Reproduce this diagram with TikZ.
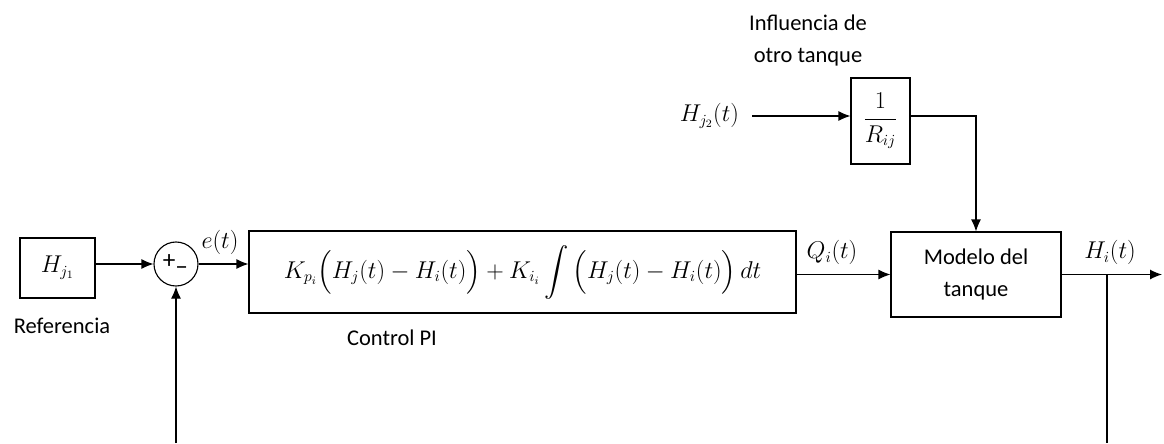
\documentclass[tikz,border=0pt]{standalone}
\usepackage{amsmath}
\usepackage{fontspec}
\setmainfont{Carlito}
\usetikzlibrary{arrows.meta}

\begin{document}
\begin{tikzpicture}[
    blk/.style={draw, line width=0.8pt, align=center, inner sep=2pt},
    lbl/.style={font=\fontsize{16}{22.7}\selectfont, align=center},
    sign/.style={font=\fontsize{18}{18}\selectfont, inner sep=0pt},
    sig/.style={line width=0.8pt, -{Latex[length=0.3cm, width=0.25cm]}},
    wire/.style={line width=0.8pt},
    font=\fontsize{16}{22.7}\selectfont,
  ]
  \useasboundingbox (0,0) rectangle (29.1,-11.075);
  % Left: reference and summing point
  \node[blk, minimum width=1.875cm, minimum height=1.5cm] (ref) at (1.4375,-6.7) {$H_{j_1}$};
  \node[lbl] (reflbl) at (1.55,-8.15) {Referencia};
  \node[draw, circle, line width=0.8pt, minimum size=1.1cm, inner sep=0pt] (sum) at (4.4,-6.6) {};
  \node[sign] (plus) at ([xshift=-0.17cm, yshift=0.06cm]sum.center) {+};
  \node[sign] (minus) at ([xshift=0.14cm, yshift=-0.16cm]sum.center) {\textendash};
  % Middle: the controller
  \node[blk, minimum width=13.675cm, minimum height=2.05cm] (pi) at (13.0625,-6.8)
    {$K_{p_i}\Big(H_j(t)-H_i(t)\Big)+K_{i_i}\,{\displaystyle\int}\,\Big(H_j(t)-H_i(t)\Big)\,dt$};
  \node[lbl] (pilbl) at (9.8,-8.45) {Control PI};
  \node[lbl] (elbl) at (5.5,-6.05) {$e(t)$};
  % Right: the tank and the other tank
  \node[blk, minimum width=4.25cm, minimum height=2.125cm] (tank) at (24.4,-6.8625) {Modelo del\\tanque};
  \node[blk, minimum width=1.475cm, minimum height=2.15cm] (gain) at (22.0125,-3.025) {$\dfrac{1}{R_{ij}}$};
  \node[lbl] (inflbl) at (20.2,-1.02) {Influencia de\\otro tanque};
  \node[lbl, anchor=east] (hjtwo) at (18.6,-2.9) {$H_{j_2}(t)$};
  \node[lbl] (qlbl) at (20.8,-6.32) {$Q_i(t)$};
  \node[lbl] (hlbl) at (27.75,-6.32) {$H_i(t)$};
  % Free ends
  \coordinate (out) at (29.05,-6.8625);
  \coordinate (br) at (27.675,-6.8625);
  \coordinate (bot) at (27.675,-11.075);
  \coordinate (fb) at (4.4,-11.075);
  % Connectors
  \draw[sig] (ref.east |- sum) -- (sum.west);
  \draw[sig] (sum.east) -- (sum -| pi.west);
  \draw[sig] (pi.east |- tank) -- (tank.west);
  \draw[sig] (tank.east) -- (out);
  \draw[wire] (br) -- (bot);
  \draw[sig] (fb) -- (sum.south);
  \draw[sig] ([xshift=0.2cm]hjtwo.east) -- (hjtwo -| gain.west);
  \draw[sig] (gain.east |- hjtwo) -| (tank.north);
\end{tikzpicture}
\end{document}
